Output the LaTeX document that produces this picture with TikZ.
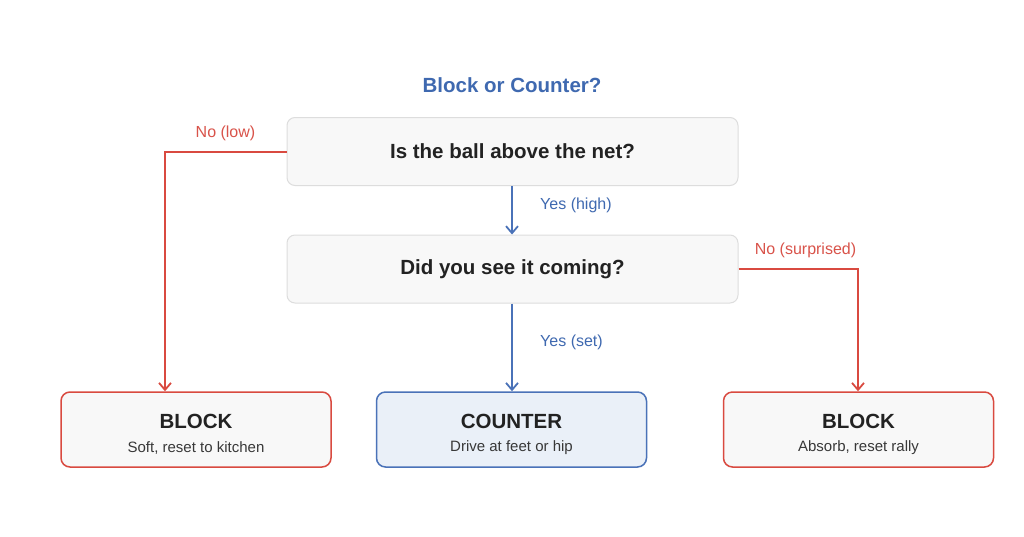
\documentclass[tikz,border=0pt]{standalone}
\usepackage{fontspec}
\setmainfont{Liberation Sans}
\usetikzlibrary{arrows.meta}
\definecolor{redc}{HTML}{D94A40}
\definecolor{redtxt}{HTML}{D9534A}
\definecolor{bluec}{HTML}{4A72B8}
\definecolor{bluetxt}{HTML}{3F69B0}
\definecolor{graybd}{HTML}{DDDDDD}
\definecolor{grayfill}{HTML}{F8F8F8}
\definecolor{bluefill}{HTML}{EAF0F8}
\definecolor{darktxt}{HTML}{222222}
\tikzset{
  qbox/.style={draw=graybd, line width=1pt, fill=grayfill, rounded corners=8pt,
    minimum width=451pt, minimum height=68pt, inner sep=0pt,
    font=\fontsize{20.5}{24}\selectfont\bfseries, text=darktxt},
  outbox/.style={rounded corners=9pt, line width=1.5pt, minimum width=270pt,
    minimum height=75pt, inner sep=0pt},
  redbox/.style={outbox, draw=redc, fill=grayfill},
  bluebox/.style={outbox, draw=bluec, fill=bluefill},
  headtxt/.style={font=\fontsize{20.5}{24}\selectfont\bfseries, text=darktxt, inner sep=0pt},
  subtxt/.style={font=\fontsize{15}{18}\selectfont, text=darktxt!90, inner sep=0pt},
  redarr/.style={draw=redc, line width=2pt, -{Straight Barb[length=7pt,width=12pt,line width=1.8pt]}},
  bluearr/.style={draw=bluec, line width=2pt, -{Straight Barb[length=7pt,width=12pt,line width=1.8pt]}},
  redlbl/.style={font=\fontsize{16}{19}\selectfont, text=redtxt, inner sep=0pt},
  bluelbl/.style={font=\fontsize{16}{19}\selectfont, text=bluetxt, inner sep=0pt, anchor=west},
}
\begin{document}
\begin{tikzpicture}[x=1pt,y=-1pt]
\useasboundingbox[fill=white] (0,0) rectangle (1024,536);
\node[font=\fontsize{20.5}{24}\selectfont\bfseries, text=bluetxt, inner sep=0pt] (title) at (512,85) {Block or Counter?};
\node[qbox] (q1) at (512.5,151.5) {Is the ball above the net?};
\node[qbox] (q2) at (512.5,269) {Did you see it coming?};
\node[redbox] (b1) at (196,429.5) {};
\node[bluebox] (c) at (511.5,429.5) {};
\node[redbox] (b2) at (858.5,429.5) {};
\node[headtxt] (b1h) at (196,421) {BLOCK};
\node[subtxt] (b1s) at (196,448) {Soft, reset to kitchen};
\node[headtxt] (ch) at (511.5,421) {COUNTER};
\node[subtxt] (cs) at (511.5,448) {Drive at feet or hip};
\node[headtxt] (b2h) at (858.5,421) {BLOCK};
\node[subtxt] (b2s) at (858.5,448) {Absorb, reset rally};
\coordinate (k1) at (165,151.5);
\coordinate (k2) at (858,269);
\draw[bluearr] (q1.south -| 512,0) -- (q2.north -| 512,0);
\draw[bluearr] (q2.south -| 512,0) -- (c.north -| 512,0);
\draw[redarr] (q1.west) -- (k1) -- (k1 |- b1.north);
\draw[redarr] (q2.east) -- (k2) -- (k2 |- b2.north);
\node[bluelbl] (l1) at (540,205) {Yes (high)};
\node[bluelbl] (l2) at (540,342.5) {Yes (set)};
\node[redlbl] (l3) at (225.5,133) {No (low)};
\node[redlbl] (l4) at (805.5,250) {No (surprised)};
\end{tikzpicture}
\end{document}
